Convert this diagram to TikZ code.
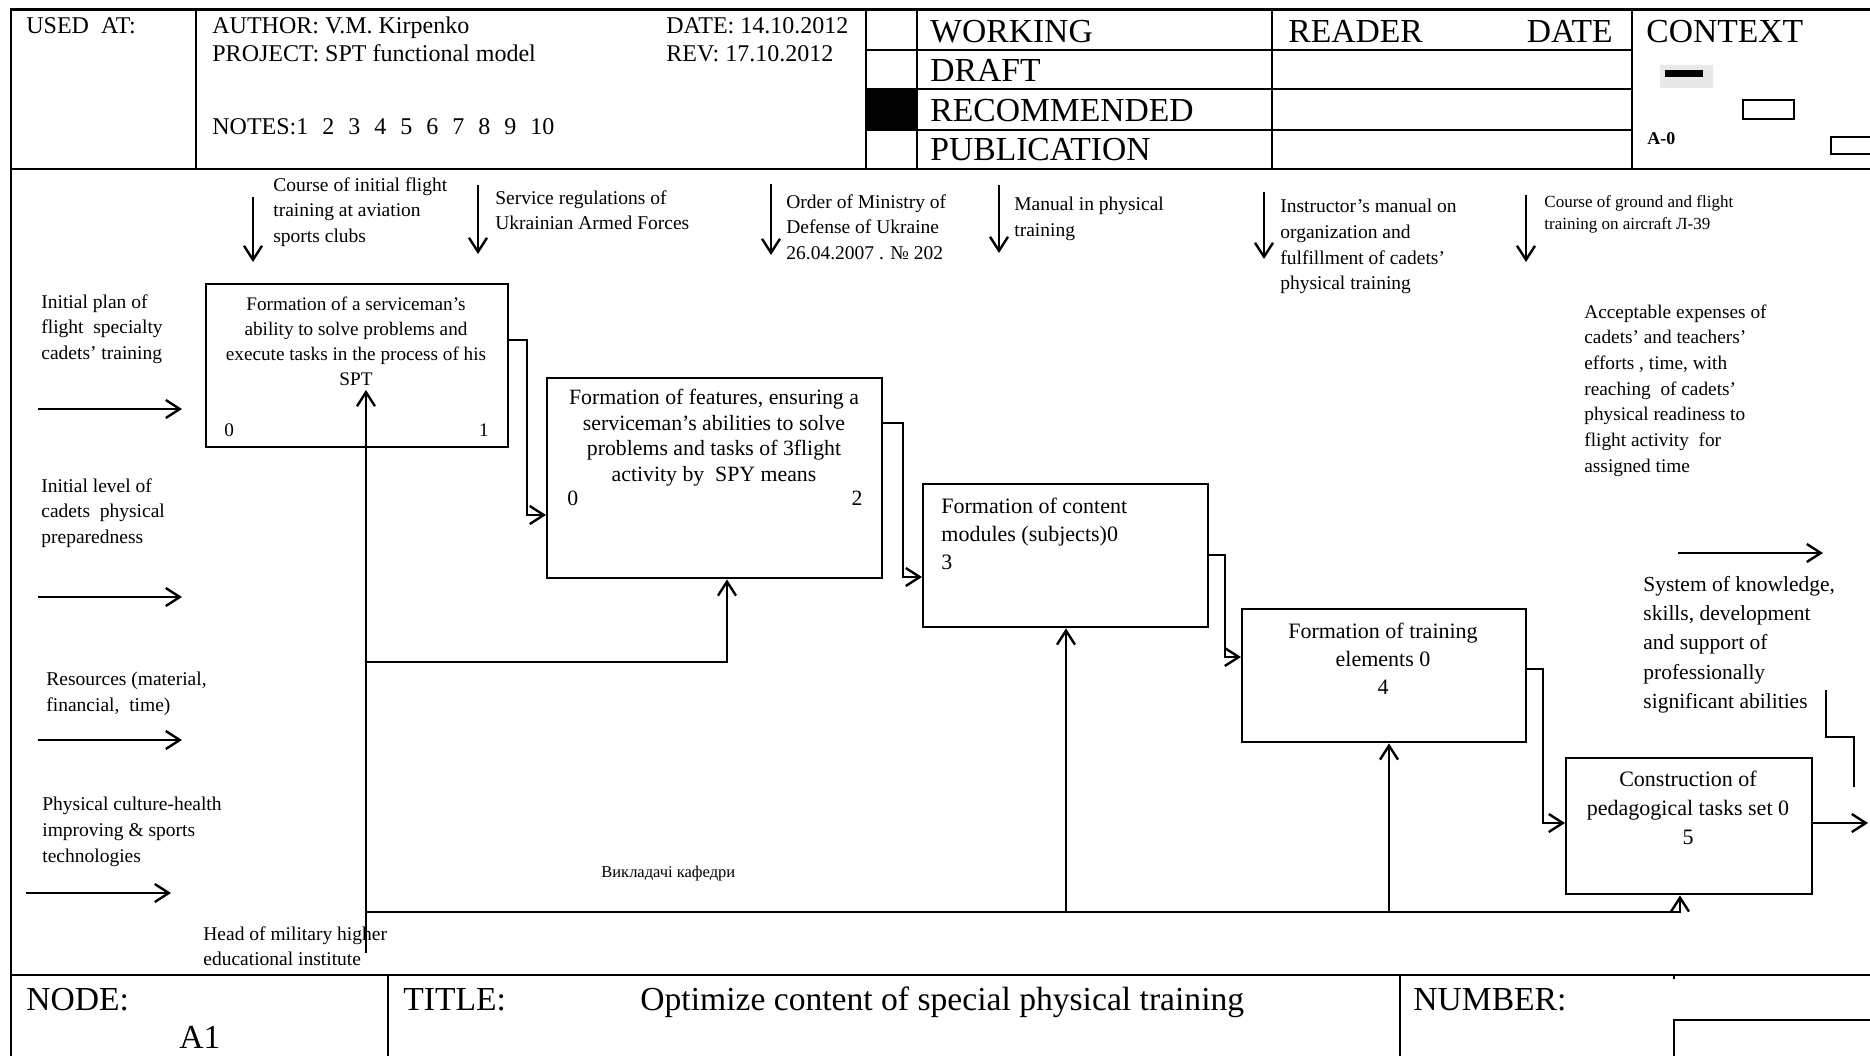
\documentclass[tikz,border=0pt]{standalone}
\usepackage{fontspec}
\setmainfont{Liberation Serif}
\usetikzlibrary{arrows.meta}
\newcommand{\fsz}[2]{\fontsize{#1}{#2}\selectfont}
\begin{document}
\begin{tikzpicture}[x=0.5pt,y=-0.5pt,
  frame/.style={line width=1.3pt},
  box/.style={draw, line width=1.2pt, inner sep=0pt, anchor=north west},
  lbl/.style={inner sep=0pt, anchor=north west, align=left},
  ctr/.style={inner sep=0pt, anchor=north, align=center},
  one/.style={inner sep=0pt, anchor=base west},
  onee/.style={inner sep=0pt, anchor=base east},
  wire/.style={line width=1.2pt},
  arr/.style={line width=1.2pt, -{Straight Barb[length=7pt,width=9pt,line width=1.2pt]}},
  big/.style={font=\fsz{16.8}{20}},
  hdr/.style={font=\fsz{12}{14}},
  small/.style={font=\fsz{9.75}{12.8}},
]
\clip (0,0) rectangle (1870,1056);
\fill[white] (0,0) rectangle (1870,1056);

% ---------- frame ----------
\draw[frame] (1870,9.5) -- (11,9.5) -- (11,1056);
\draw[frame] (11,169) -- (1870,169);
\draw[frame] (11,975) -- (1870,975);
\draw[frame] (196,9.5) -- (196,169);
\draw[frame] (866,9.5) -- (866,169);
\draw[frame] (917,9.5) -- (917,169);
\draw[frame] (1272,9.5) -- (1272,169);
\draw[frame] (1632,9.5) -- (1632,169);
\draw[frame] (866,50) -- (1632,50);
\draw[frame] (866,89) -- (1632,89);
\draw[frame] (866,130) -- (1632,130);
\fill[black] (866,89) rectangle (917,130);
\draw[frame] (388,975) -- (388,1056);
\draw[frame] (1400,975) -- (1400,1056);
\draw[frame] (1674,975) -- (1674,979);
\draw[frame] (1674,1056) -- (1674,1020) -- (1870,1020);

% ---------- header text ----------
\node[one, hdr] (usedat) at (26,33) {USED\ \ AT:};
\node[one, hdr] (author) at (212,33) {AUTHOR: V.M. Kirpenko};
\node[one, hdr] (project) at (212,61) {PROJECT: SPT functional model};
\node[one, hdr] (notes) at (212,134) {NOTES:1\hspace{7pt}2\hspace{7pt}3\hspace{7pt}4\hspace{7pt}5\hspace{7pt}6\hspace{7pt}7\hspace{7pt}8\hspace{7pt}9\hspace{7pt}10};
\node[one, hdr] (date) at (666,33) {DATE: 14.10.2012};
\node[one, hdr] (rev) at (666,61) {REV: 17.10.2012};
\node[one, big] (working) at (930,42) {WORKING};
\node[one, big] (draft) at (930,81) {DRAFT};
\node[one, big] (recom) at (930,121) {RECOMMENDED};
\node[one, big] (publ) at (930,160) {PUBLICATION};
\node[one, big] (reader) at (1288,42) {READER};
\node[onee, big] (rdate) at (1613,42) {DATE};
\node[one, big] (context) at (1646,42) {CONTEXT};
\fill[gray!18] (1660,65) rectangle (1713,88);
\fill[black] (1665,70) rectangle (1703,77);
\draw[line width=1.2pt] (1743,100) rectangle (1794,119);
\draw[line width=1.2pt] (1831,137) rectangle (1890,154);
\node[one, font=\fsz{9}{11}\bfseries] (a0) at (1647,144) {A-0};

% ---------- footer text ----------
\node[one, big] (nodelbl) at (26,1010) {NODE:};
\node[one, big] (a1) at (179,1048) {A1};
\node[one, big] (titlelbl) at (403,1010) {TITLE:};
\node[one, big] (title) at (640,1010) {Optimize content of special physical training};
\node[one, big] (number) at (1413,1010) {NUMBER:};

% ---------- boxes ----------
\node[box, minimum width=151pt, minimum height=81.5pt] (b1) at (205,283) {};
\node[box, minimum width=167.5pt, minimum height=100pt] (b2) at (546,377) {};
\node[box, minimum width=142.5pt, minimum height=71.5pt] (b3) at (922,483) {};
\node[box, minimum width=142pt, minimum height=66.5pt] (b4) at (1241,608) {};
\node[box, minimum width=123pt, minimum height=68pt] (b5) at (1565,757) {};

\node[ctr, font=\fsz{9.6}{12.5}] (t1) at (356,297) {Formation of a serviceman’s\\ability to solve problems and\\execute tasks in the process of his\\SPT};
\node[one, font=\fsz{9.6}{12}] (t1a) at (224,436) {0};
\node[onee, font=\fsz{9.6}{12}] (t1b) at (489,436) {1};

\node[ctr, font=\fsz{10.9}{12.75}] (t2) at (714,389) {Formation of features, ensuring a\\serviceman’s abilities to solve\\problems and tasks of 3flight\\activity by\ \ SPY means};
\node[one, font=\fsz{10.9}{12}] (t2a) at (567,505) {0};
\node[onee, font=\fsz{10.9}{12}] (t2b) at (863,505) {2};

\node[lbl, font=\fsz{11}{14}] (t3) at (941,498) {Formation of content\\modules (subjects)0\\3};
\node[ctr, font=\fsz{11}{14}] (t4) at (1383,623) {Formation of training\\elements 0\\4};
\node[ctr, font=\fsz{11}{14.5}] (t5) at (1688,771) {Construction of\\pedagogical tasks set 0\\5};

% ---------- input labels and arrows ----------
\node[lbl, small] (in1) at (41,294) {Initial plan of\\flight\ \ specialty\\cadets’ training};
\node[lbl, small] (in2) at (41,478) {Initial level of\\cadets\ \ physical\\preparedness};
\node[lbl, small] (in3) at (46,672) {Resources (material,\\financial,\ \ time)};
\node[lbl, small] (in4) at (42,797) {Physical culture-health\\improving \& sports\\technologies};
\coordinate (i1s) at (38,409); \coordinate (i1e) at (182,409);
\coordinate (i2s) at (38,597); \coordinate (i2e) at (182,597);
\coordinate (i3s) at (38,740); \coordinate (i3e) at (182,740);
\coordinate (i4s) at (26,893); \coordinate (i4e) at (171,893);
\draw[arr] (i1s) -- (i1e);
\draw[arr] (i2s) -- (i2e);
\draw[arr] (i3s) -- (i3e);
\draw[arr] (i4s) -- (i4e);

% ---------- control labels and arrows ----------
\node[lbl, small] (c1) at (273,177) {Course of initial flight\\training at aviation\\sports clubs};
\node[lbl, small] (c2) at (495,190) {Service regulations of\\Ukrainian Armed Forces};
\node[lbl, small] (c3) at (786,194) {Order of Ministry of\\Defense of Ukraine\\26.04.2007 . № 202};
\node[lbl, small] (c4) at (1014,197) {Manual in physical\\training};
\node[lbl, small] (c5) at (1280,199) {Instructor’s manual on\\organization and\\fulfillment of cadets’\\physical training};
\node[lbl, font=\fsz{8.5}{11}] (c6) at (1544,195) {Course of ground and flight\\training on aircraft Л-39};
\coordinate (c1s) at (253,197); \coordinate (c1e) at (253,262);
\coordinate (c2s) at (478,185); \coordinate (c2e) at (478,254);
\coordinate (c3s) at (771,184); \coordinate (c3e) at (771,255);
\coordinate (c4s) at (999,185); \coordinate (c4e) at (999,253);
\coordinate (c5s) at (1264,192); \coordinate (c5e) at (1264,259);
\coordinate (c6s) at (1526,195); \coordinate (c6e) at (1526,262);
\draw[arr] (c1s) -- (c1e);
\draw[arr] (c2s) -- (c2e);
\draw[arr] (c3s) -- (c3e);
\draw[arr] (c4s) -- (c4e);
\draw[arr] (c5s) -- (c5e);
\draw[arr] (c6s) -- (c6e);

\node[lbl, font=\fsz{9.65}{12.85}] (accept) at (1584,304) {Acceptable expenses of\\cadets’ and teachers’\\efforts , time, with\\reaching\ \ of cadets’\\physical readiness to\\flight activity\ \ for\\assigned time};

% ---------- output ----------
\node[lbl, font=\fsz{10.75}{14.6}] (outlbl) at (1643,576) {System of knowledge,\\skills, development\\and support of\\professionally\\significant abilities};
\coordinate (o1s) at (1678,553); \coordinate (o1e) at (1823,553);
\draw[arr] (o1s) -- (o1e);
\coordinate (o2) at (1868,823);
\draw[arr] (b5.east |- 0,823) -- (o2);
\coordinate (k1) at (1826,690); \coordinate (k2) at (1854,787);
\draw[wire] (k1) |- (1854,737) -- (k2);

% ---------- step connectors ----------
\draw[arr] (b1.east |- 0,340) -- (527,340) |- (b2.west |- 0,515);
\draw[arr] (b2.east |- 0,423) -- (903,423) |- (b3.west |- 0,577);
\draw[arr] (b3.east |- 0,555) -- (1225,555) |- (b4.west |- 0,657);
\draw[arr] (b4.east |- 0,669) -- (1543,669) |- (b5.west |- 0,823);

% ---------- mechanisms ----------
\node[lbl, small] (head) at (203,926) {Head of military higher\\educational institute};
\node[one, font=\fsz{8.25}{10}] (vykl) at (601,877) {Викладачі кафедри};
\coordinate (m0) at (366,953);
\draw[arr] (m0) -- (m0 |- 0,390);
\draw[arr] (m0 |- 0,662) -| (727,0 |- b2.south);
\draw[arr] (m0 |- 0,912) -| (1680,0 |- b5.south);
\draw[arr] (1066,912) -- (1066,0 |- b3.south);
\draw[arr] (1389,912) -- (1389,0 |- b4.south);
\end{tikzpicture}
\end{document}
